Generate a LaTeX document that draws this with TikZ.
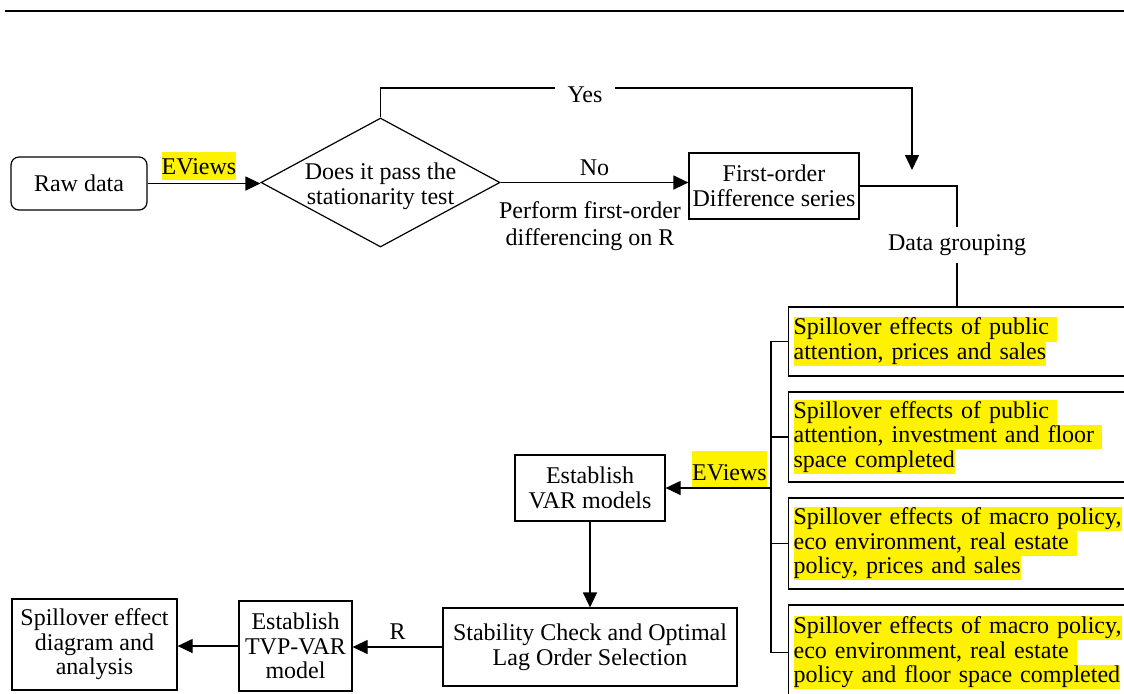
\documentclass[tikz,border=0pt]{standalone}
\usepackage{fontspec}
\setmainfont{Liberation Serif}
\usetikzlibrary{arrows.meta,shapes.geometric}
\setlength{\fboxsep}{0pt}
\newcommand{\hlline}[1]{\colorbox{yellow}{\rule[-3.3pt]{0pt}{12.3pt}#1}}
\tikzset{
  box/.style={draw, line width=0.6pt, inner sep=0pt, align=center},
  spill/.style={draw, line width=0.6pt, anchor=west, inner xsep=2.5pt, inner ysep=0pt,
    text width=168pt, align=left},
  link/.style={line width=0.6pt},
  arr/.style={line width=0.6pt, -{Triangle[length=7.5pt,width=7pt]}},
  hl/.style={fill=yellow, inner sep=0pt, anchor=base}
}
\begin{document}
\begin{tikzpicture}[x=0.5pt, y=-0.5pt, font=\fontsize{12}{12.3}\selectfont]
  \useasboundingbox (0,0) rectangle (1124,693);
  \draw[line width=1pt] (5,11) -- (1124,11);

  % first row
  \node[box, rounded corners=4pt, minimum width=68pt, minimum height=26.5pt] (raw) at (79,183.5) {Raw data};
  \node[box, diamond, aspect=1.85, minimum width=119.5pt, minimum height=64.5pt] (test) at (380.5,182.5) {};
  \node[align=center, inner sep=0pt] (testtxt) at (380.5,186) {Does it pass the\\stationarity test};
  \node[box, minimum width=85pt, minimum height=33pt] (diff) at (774,186) {First-order\\Difference series};
  \node[hl, text height=11pt, text depth=3pt] (ev1) at (199,174) {EViews};
  \node[align=center, font=\fontsize{12}{13.5}\selectfont] (perf) at (590,226) {Perform first-order\\differencing on R};

  \draw[arr] (raw.east) -- (raw.east -| test.west);
  \draw[arr] (test.east) -- node[above]{No} (test.east -| diff.west);

  % yes branch
  \coordinate (ycorner) at (912,88);
  \coordinate (yend) at (912,170);
  \node[inner xsep=6pt] (yes) at (585,95) {Yes};
  \draw[link] (test.north) |- (yes.west |- ycorner);
  \draw[arr] (yes.east |- ycorner) -- (ycorner) -- (yend);

  % data grouping
  \node[inner sep=0pt, minimum height=17.5pt] (group) at (957,245) {Data grouping};
  \node[spill, minimum height=34.5pt] (s1) at (788,341.5) {\hlline{Spillover effects of public\ }\\\hlline{attention, prices and sales}};
  \node[spill, minimum height=45pt] (s2) at (788,437) {\hlline{Spillover effects of public\ }\\\hlline{attention, investment and floor\ }\\\hlline{space completed}};
  \node[spill, minimum height=45.5pt] (s3) at (788,543.5) {\hlline{Spillover effects of macro policy,}\\\hlline{eco environment, real estate\ }\\\hlline{policy, prices and sales}};
  \node[spill, minimum height=47.5pt] (s4) at (788,652.5) {\hlline{Spillover effects of macro policy,}\\\hlline{eco environment, real estate\ }\\\hlline{policy and floor space completed}};

  \draw[link] (diff.east) -| (group.north);
  \draw[link] (group.south) -- (group.south |- s1.north);

  \coordinate (brk) at (771,0);
  \draw[link] (s1.west) -- (s1.west -| brk) -- (s4.west -| brk) -- (s4.west);
  \foreach \s in {s2,s3}
    \draw[link] (\s.west) -- (\s.west -| brk);

  % models
  \node[box, minimum width=75pt, minimum height=33pt] (var) at (590,488) {Establish\\VAR models};
  \node[box, minimum width=147pt, minimum height=39pt] (stab) at (590,647) {Stability Check and Optimal\\Lag Order Selection};
  \node[box, minimum width=56.5pt, minimum height=45pt] (tvp) at (295.5,646) {Establish\\TVP-VAR\\model};
  \node[box, minimum width=82.5pt, minimum height=45.5pt] (eff) at (94.5,644.5) {Spillover effect\\diagram and\\analysis};
  \node[hl, text height=14.5pt, text depth=3.5pt] (ev2) at (729.5,480) {EViews};

  \draw[arr] (brk |- var.east) -- (var.east);
  \draw[arr] (var) -- (stab);
  \draw[arr] (stab.west) -- node[above]{R} (stab.west -| tvp.east);
  \draw[arr] (tvp.west) -- (tvp.west -| eff.east);
\end{tikzpicture}
\end{document}
